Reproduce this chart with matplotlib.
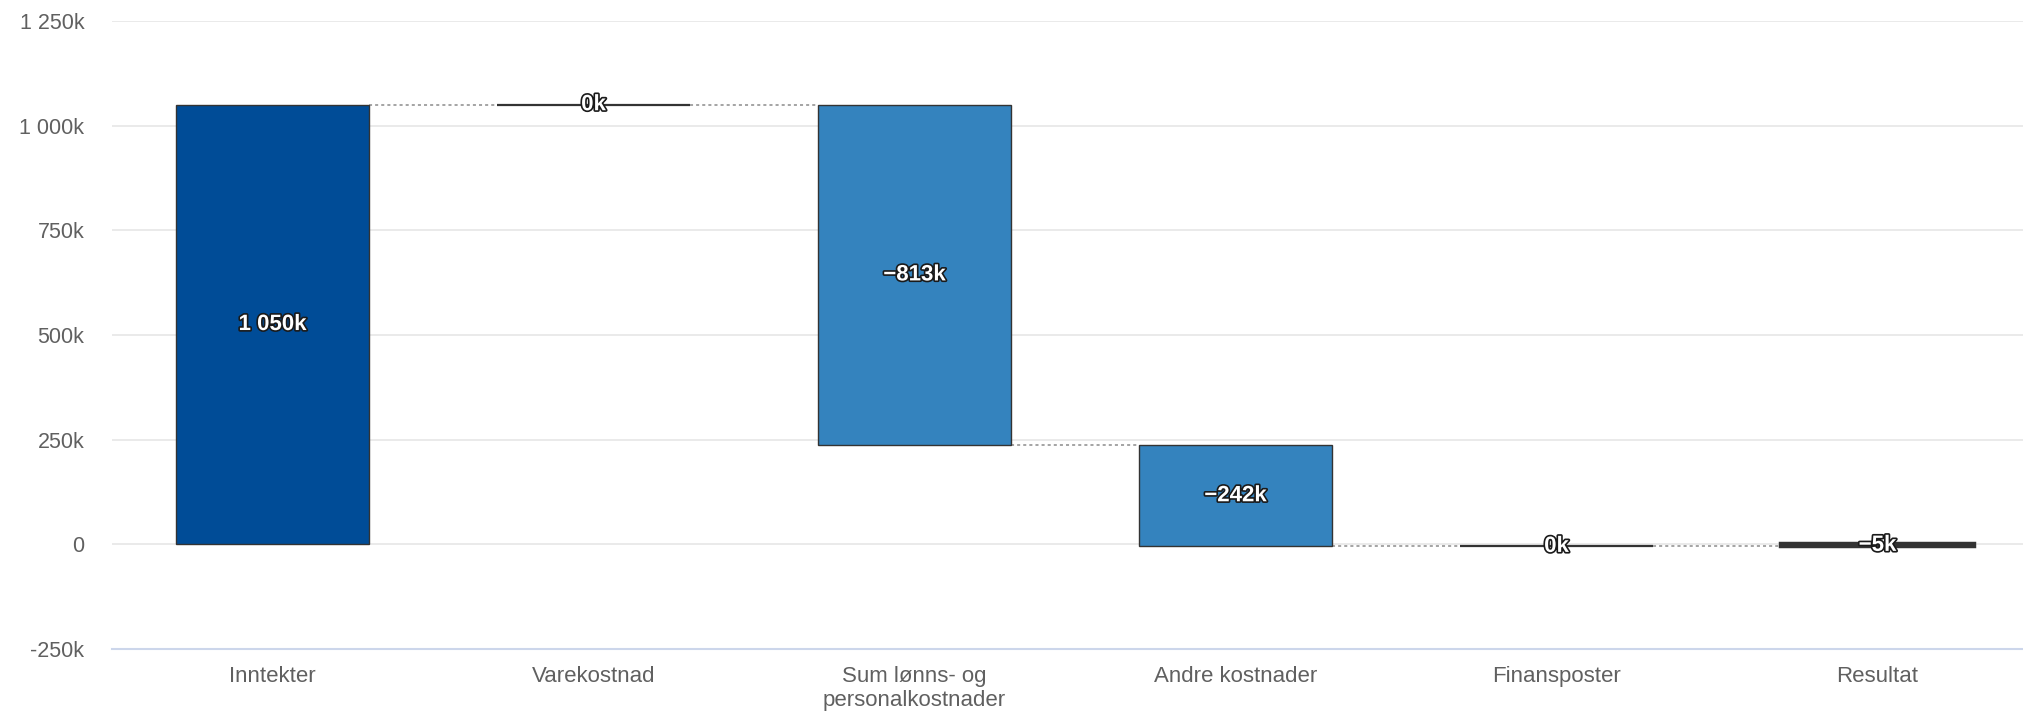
import matplotlib
matplotlib.use("Agg")
import matplotlib.pyplot as plt
import matplotlib.patheffects as pe
from matplotlib.ticker import FuncFormatter, MultipleLocator

plt.rcParams["font.family"] = ["Liberation Sans Narrow", "Liberation Sans", "DejaVu Sans"]

# waterfall data (in kr)
categories = ["Inntekter", "Varekostnad", "Sum lønns- og\npersonalkostnader",
              "Andre kostnader", "Finansposter", "Resultat"]
changes = [1050000, 0, -813000, -242000, 0, -5000]
is_total = [False, False, False, False, False, True]
bar_colors = ["#004c97", "#3483be", "#3483be", "#3483be", "#3483be", "#3483be"]


def fmt_k(v):
    k = int(round(v / 1000))
    s = f"{abs(k):,}".replace(",", " ")
    return ("\u2212" if k < 0 else "") + s + "k"


def fmt_tick(v, pos):
    if v == 0:
        return "0"
    k = int(round(v / 1000))
    s = f"{abs(k):,}".replace(",", " ")
    return ("-" if k < 0 else "") + s + "k"


# running totals for the waterfall
bottoms, tops = [], []
running = 0
for ch, tot in zip(changes, is_total):
    if tot:
        bottoms.append(0)
        tops.append(running)
    else:
        bottoms.append(running)
        running += ch
        tops.append(running)

fig = plt.figure(figsize = (20.24, 7.14), dpi = 100)
ax = fig.add_axes([112 / 2024, 65 / 714, 1912 / 2024, 628 / 714])

x = list(range(len(categories)))
width = 0.6
heights = [t - b for t, b in zip(tops, bottoms)]
for i in x:
    if is_total[i]:
        lw = 3.2
    elif heights[i] == 0:
        lw = 1.6
    else:
        lw = 1
    ax.bar(i, heights[i], bottom = bottoms[i], width = width, color = bar_colors[i],
           edgecolor = "#333333", linewidth = lw, zorder = 3)

# dotted connectors between bars
for i in range(len(x) - 1):
    level = tops[i]
    ax.plot([i + width / 2, i + 1 - width / 2], [level, level], color = "#8c8c8c",
            linestyle = (0, (2, 2)), linewidth = 1.1, zorder = 2)

# data labels
for i in x:
    mid = (tops[i] + bottoms[i]) / 2
    ax.text(i, mid, fmt_k(changes[i]), ha = "center", va = "center", color = "white",
            fontsize = 16, fontweight = "bold", zorder = 5,
            path_effects = [pe.withStroke(linewidth = 2.4, foreground = "#1a1a1a")])

ax.set_xlim(-0.5, -0.5 + 1912 / 321)
ax.set_ylim(-250000, 1250000)
ax.yaxis.set_major_locator(MultipleLocator(250000))
ax.yaxis.set_major_formatter(FuncFormatter(fmt_tick))
ax.set_xticks(x)
ax.set_xticklabels(categories)

ax.grid(axis = "y", color = "#e6e6e6", linewidth = 1.2, zorder = 0)
ax.set_axisbelow(True)
for side in ["top", "right", "left"]:
    ax.spines[side].set_visible(False)
ax.spines["bottom"].set_color("#ccd6eb")
ax.spines["bottom"].set_linewidth(1.5)
ax.tick_params(axis = "x", length = 0, pad = 12, labelsize = 16, labelcolor = "#606060")
ax.tick_params(axis = "y", length = 0, pad = 20, labelsize = 15.5, labelcolor = "#606060")

fig.savefig("out.png", dpi = 100)
plt.close(fig)
